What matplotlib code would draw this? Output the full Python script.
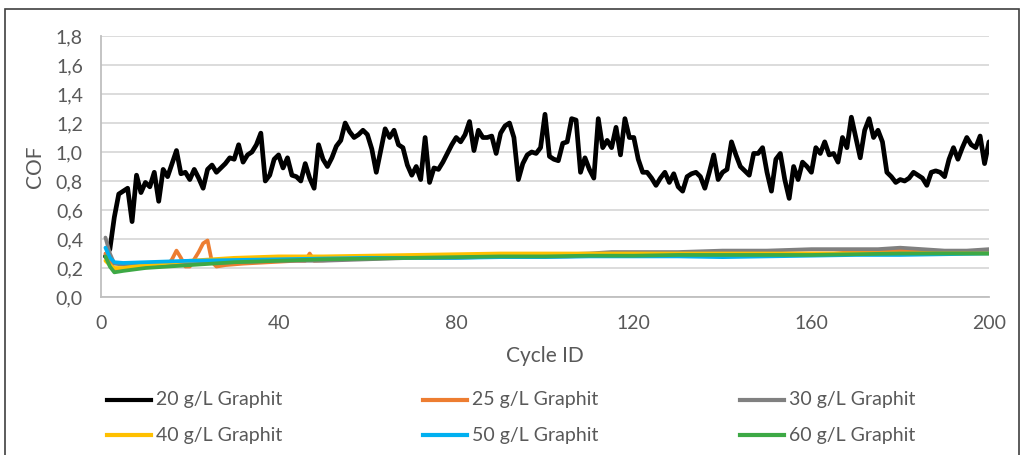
import matplotlib
matplotlib.use("Agg")
import matplotlib.pyplot as plt
from matplotlib.lines import Line2D
from matplotlib.patches import Rectangle
from matplotlib.ticker import FuncFormatter

# ---------------- data ----------------
cycles_20 = list(range(1, 201))
cof_20 = [0.28, 0.33, 0.55, 0.71, 0.73, 0.75, 0.52, 0.84, 0.72, 0.79,
          0.76, 0.86, 0.66, 0.88, 0.83, 0.92, 1.01, 0.85, 0.86, 0.81,
          0.88, 0.82, 0.75, 0.88, 0.91, 0.86, 0.89, 0.92, 0.96, 0.95,
          1.05, 0.93, 0.98, 1.00, 1.05, 1.13, 0.80, 0.84, 0.95, 0.98,
          0.89, 0.96, 0.84, 0.83, 0.80, 0.92, 0.82, 0.75, 1.05, 0.95,
          0.90, 0.96, 1.04, 1.08, 1.20, 1.14, 1.10, 1.12, 1.15, 1.12,
          1.02, 0.86, 1.01, 1.16, 1.10, 1.15, 1.05, 1.03, 0.91, 0.84,
          0.90, 0.81, 1.10, 0.79, 0.89, 0.88, 0.93, 0.99, 1.05, 1.10,
          1.07, 1.12, 1.21, 1.01, 1.15, 1.10, 1.10, 1.11, 0.99, 1.13,
          1.18, 1.20, 1.10, 0.81, 0.92, 0.98, 1.00, 0.99, 1.03, 1.26,
          0.97, 0.95, 0.94, 1.06, 1.07, 1.23, 1.22, 0.86, 0.96, 0.88,
          0.82, 1.23, 1.03, 1.08, 1.03, 1.17, 0.98, 1.23, 1.10, 1.10,
          0.95, 0.86, 0.86, 0.82, 0.77, 0.82, 0.86, 0.79, 0.85, 0.76,
          0.73, 0.83, 0.85, 0.86, 0.83, 0.75, 0.86, 0.98, 0.81, 0.86,
          0.88, 1.07, 0.98, 0.90, 0.87, 0.84, 0.99, 0.99, 1.03, 0.86,
          0.73, 0.95, 0.99, 0.81, 0.68, 0.90, 0.81, 0.93, 0.90, 0.86,
          1.03, 0.99, 1.07, 0.98, 0.99, 0.93, 1.10, 1.03, 1.24, 1.10,
          0.96, 1.15, 1.23, 1.10, 1.15, 1.07, 0.86, 0.83, 0.79, 0.81,
          0.80, 0.82, 0.86, 0.84, 0.82, 0.77, 0.86, 0.87, 0.86, 0.83,
          0.95, 1.03, 0.95, 1.03, 1.10, 1.05, 1.03, 1.11, 0.92, 1.07]

cycles_25 = [1, 2, 3, 5, 8, 12, 15, 16, 17, 18, 19, 20, 21, 22, 23, 24, 25, 26,
             28, 32, 38, 44, 46, 47, 48, 55, 65, 75, 85, 95, 105, 115, 125,
             135, 145, 155, 165, 170, 175, 180, 185, 190, 195, 200]
cof_25 = [0.30, 0.24, 0.19, 0.19, 0.20, 0.21, 0.22, 0.26, 0.32, 0.27, 0.21,
          0.21, 0.26, 0.31, 0.37, 0.39, 0.24, 0.21, 0.22, 0.23, 0.24, 0.25,
          0.25, 0.30, 0.25, 0.26, 0.27, 0.27, 0.28, 0.28, 0.28, 0.29, 0.29,
          0.30, 0.30, 0.30, 0.30, 0.31, 0.31, 0.32, 0.31, 0.31, 0.31, 0.31]

cycles_30 = [1, 2, 3, 6, 10, 20, 30, 40, 50, 60, 70, 80, 90, 100, 110, 115,
             120, 130, 140, 150, 160, 165, 170, 175, 180, 185, 190, 195, 200]
cof_30 = [0.41, 0.30, 0.23, 0.22, 0.23, 0.23, 0.24, 0.25, 0.25, 0.26, 0.27,
          0.27, 0.28, 0.29, 0.30, 0.31, 0.31, 0.31, 0.32, 0.32, 0.33, 0.33,
          0.33, 0.33, 0.34, 0.33, 0.32, 0.32, 0.33]

cycles_40 = [1, 2, 3, 5, 10, 20, 30, 40, 50, 60, 70, 80, 90, 100, 110, 120,
             130, 140, 150, 160, 170, 180, 190, 200]
cof_40 = [0.25, 0.22, 0.20, 0.20, 0.22, 0.25, 0.27, 0.28, 0.28, 0.285, 0.29,
          0.295, 0.30, 0.30, 0.30, 0.30, 0.30, 0.30, 0.30, 0.30, 0.30, 0.30,
          0.30, 0.30]

cycles_50 = [1, 2, 3, 5, 10, 20, 30, 40, 50, 60, 70, 80, 90, 100, 110, 120,
             130, 140, 150, 160, 170, 180, 190, 200]
cof_50 = [0.34, 0.27, 0.24, 0.235, 0.24, 0.25, 0.255, 0.26, 0.265, 0.27, 0.27,
          0.27, 0.275, 0.275, 0.28, 0.28, 0.28, 0.275, 0.28, 0.285, 0.29,
          0.29, 0.295, 0.30]

cycles_60 = [1, 2, 3, 5, 10, 20, 30, 40, 50, 60, 70, 80, 90, 100, 110, 120,
             130, 140, 150, 160, 170, 180, 190, 200]
cof_60 = [0.28, 0.21, 0.17, 0.18, 0.20, 0.22, 0.24, 0.25, 0.26, 0.265, 0.27,
          0.275, 0.28, 0.28, 0.285, 0.285, 0.29, 0.29, 0.29, 0.29, 0.295,
          0.30, 0.30, 0.30]

series_labels = ["20 g/L Graphit", "25 g/L Graphit", "30 g/L Graphit",
                 "40 g/L Graphit", "50 g/L Graphit", "60 g/L Graphit"]
x_ticks = [0, 40, 80, 120, 160, 200]
y_ticks = [0.0, 0.2, 0.4, 0.6, 0.8, 1.0, 1.2, 1.4, 1.6, 1.8]

# ---------------- style ----------------
colors = ["#000000", "#ED7D31", "#808080", "#FFC000", "#00B0F0", "#3DA945"]
widths = [3.4, 2.7, 2.7, 2.7, 2.7, 2.7]
FONT = "Lato"
TXT = "#595959"

plt.rcParams["font.family"] = [FONT, "DejaVu Sans"]

fig = plt.figure(figsize=(10.24, 4.55), dpi=100)
ax = fig.add_axes([101 / 1024, 1 - 297 / 455, 888 / 1024, 261 / 455])

xs = [cycles_20, cycles_25, cycles_30, cycles_40, cycles_50, cycles_60]
ys = [cof_20, cof_25, cof_30, cof_40, cof_50, cof_60]
for i, (x, y) in enumerate(zip(xs, ys)):
    ax.plot(x, y, color=colors[i], lw=widths[i], solid_joinstyle="round",
            solid_capstyle="round", zorder=3 + i)

ax.set_xlim(0, 200)
ax.set_ylim(0, 1.8)
ax.set_xticks(x_ticks)
ax.set_yticks(y_ticks)
ax.yaxis.set_major_formatter(FuncFormatter(lambda v, p: f"{v:.1f}".replace(".", ",")))
ax.grid(axis="y", color="#D9D9D9", lw=1.3, zorder=0)
ax.tick_params(length=0, labelsize=14, labelcolor=TXT)
ax.tick_params(axis="y", pad=13)
ax.tick_params(axis="x", pad=13)
for s in ["top", "right"]:
    ax.spines[s].set_visible(False)
for s in ["left", "bottom"]:
    ax.spines[s].set_color("#BFBFBF")
    ax.spines[s].set_linewidth(1.3)
ax.set_xlabel("Cycle ID", fontsize=15, color=TXT, labelpad=10)
ax.set_ylabel("COF", fontsize=15, color=TXT, labelpad=8)

# legend (row-wise, three columns)
col_x = [107, 423, 740]
row_y = [400, 435]
for i, lab in enumerate(series_labels):
    r, c = divmod(i, 3)
    x0 = col_x[c] / 1024
    yy = 1 - row_y[r] / 455
    fig.add_artist(Line2D([x0, x0 + 44 / 1024], [yy, yy], color=colors[i],
                          lw=3.0, transform=fig.transFigure))
    fig.text(x0 + 49 / 1024, yy, lab, fontsize=14, color=TXT,
             va="center", ha="left")

# chart border
fig.add_artist(Rectangle((5 / 1024, -0.05), 1014 / 1024, 1.05 - 9 / 455,
                         transform=fig.transFigure, fill=False,
                         edgecolor="#404040", lw=1.2))

fig.savefig("out.png", dpi=100)
